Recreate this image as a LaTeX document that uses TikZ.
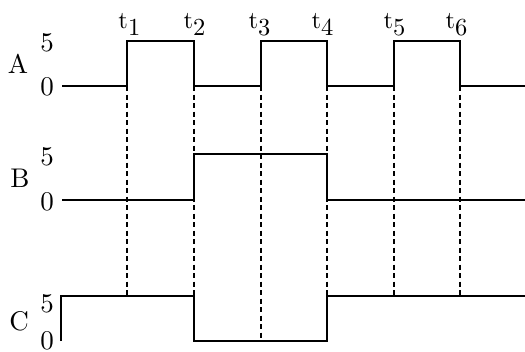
\documentclass[tikz,border=0pt]{standalone}
\usepackage{tikz}
\usetikzlibrary{positioning}
\newcommand{\bigtxt}[1]{\scalebox{2.7}{#1}}
\newcommand{\instant}[1]{\scalebox{2.45}{$\mathrm{t}_{\textstyle #1}$}}
\begin{document}
\begin{tikzpicture}[x=1pt, y=-1pt,
      sig/.style={line width=1.7pt},
      guide/.style={line width=1.4pt, dash pattern=on 5pt off 3.5pt},
      lbl/.style={anchor=base, inner sep=0pt, font=\fontsize{10}{12}\selectfont},
      tlbl/.style={anchor=base, inner sep=0pt, font=\fontsize{10}{12}\selectfont}]
    \useasboundingbox (0,0) rectangle (525,351);
    % time instants
    \coordinate (t0) at (62,0);
    \coordinate (t1) at (127,0);
    \coordinate (t2) at (194,0);
    \coordinate (t3) at (261,0);
    \coordinate (t4) at (327,0);
    \coordinate (t5) at (394,0);
    \coordinate (t6) at (460,0);
    \coordinate (tend) at (525,0);
    % signal levels
    \coordinate (A0) at (0,86);
    \coordinate (A5) at (0,41);
    \coordinate (B0) at (0,200);
    \coordinate (B5) at (0,154);
    \coordinate (C0) at (0,341);
    \coordinate (C5) at (0,296);

    % dashed guides
    \draw[guide] (t1 |- A0) -- (t1 |- C5);
    \draw[guide] (t2 |- A0) -- (t2 |- C5);
    \draw[guide] (t3 |- A0) -- (t3 |- C0);
    \draw[guide] (t4 |- A0) -- (t4 |- C5);
    \draw[guide] (t5 |- A0) -- (t5 |- C5);
    \draw[guide] (t6 |- A0) -- (t6 |- C5);

    % signals
    \draw[sig] (t0 |- A0) -- (t1 |- A0) -- (t1 |- A5) -- (t2 |- A5) -- (t2 |- A0)
      -- (t3 |- A0) -- (t3 |- A5) -- (t4 |- A5) -- (t4 |- A0)
      -- (t5 |- A0) -- (t5 |- A5) -- (t6 |- A5) -- (t6 |- A0) -- (tend |- A0);
    \draw[sig] (t0 |- B0) -- (t2 |- B0) -- (t2 |- B5) -- (t4 |- B5) -- (t4 |- B0) -- (tend |- B0);
    \draw[sig] ([xshift=-1pt]t0 |- C0) -- ([xshift=-1pt]t0 |- C5) -- (t2 |- C5) -- (t2 |- C0)
      -- (t4 |- C0) -- (t4 |- C5) -- (tend |- C5);

    % signal names and levels
    \node[lbl] (nameA) at (18,73) {\bigtxt{A}};
    \node[lbl] (Ahi) at (47,51) {\bigtxt{5}};
    \node[lbl] (Alo) at (47,95) {\bigtxt{0}};
    \node[lbl] (nameB) at (20,187) {\bigtxt{B}};
    \node[lbl] (Bhi) at (47,165) {\bigtxt{5}};
    \node[lbl] (Blo) at (47,210) {\bigtxt{0}};
    \node[lbl] (nameC) at (19,330) {\bigtxt{C}};
    \node[lbl] (Chi) at (47,312) {\bigtxt{5}};
    \node[lbl] (Clo) at (47,349) {\bigtxt{0}};

    % instants
    \node[tlbl] (lt1) at (130,28) {\instant{1}};
    \node[tlbl] (lt2) at (195,28) {\instant{2}};
    \node[tlbl] (lt3) at (260,28) {\instant{3}};
    \node[tlbl] (lt4) at (323,28) {\instant{4}};
    \node[tlbl] (lt5) at (395,28) {\instant{5}};
    \node[tlbl] (lt6) at (457,28) {\instant{6}};
  \end{tikzpicture}
\end{document}
